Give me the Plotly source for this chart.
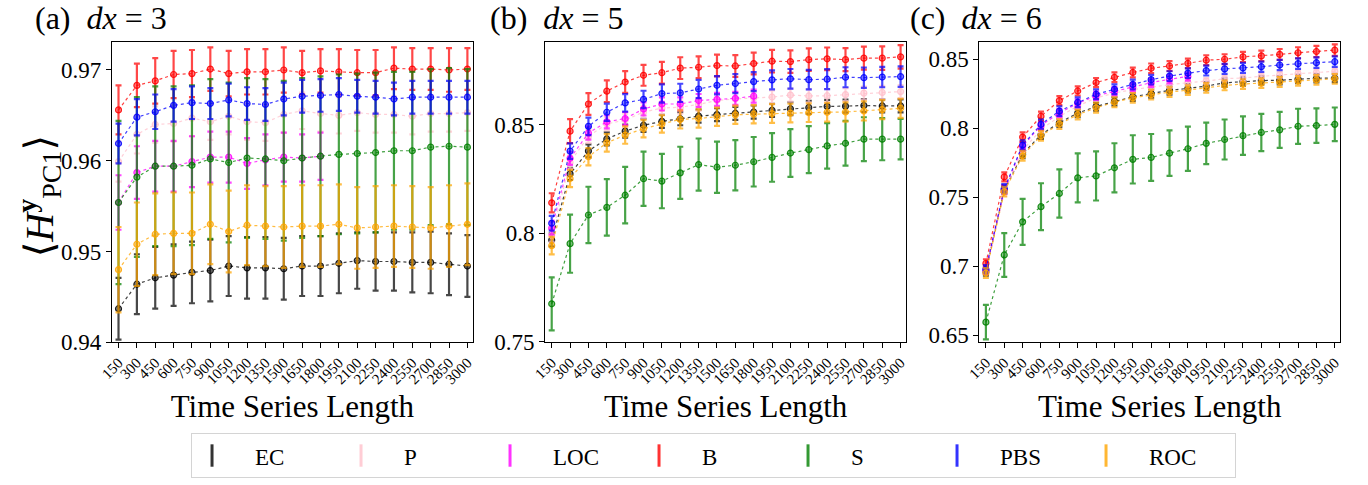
import plotly.graph_objects as go

# ---------------- data ----------------
lengths = [150, 300, 450, 600, 750, 900, 1050, 1200, 1350, 1500,
           1650, 1800, 1950, 2100, 2250, 2400, 2550, 2700, 2850, 3000]
length_labels = [str(v) for v in lengths]
loc_labels = length_labels[:12]   # LOC only evaluated up to 1800

series_names = ["EC", "P", "LOC", "B", "S", "PBS", "ROC"]
series_rgb = {"EC": "0,0,0", "P": "255,192,203", "LOC": "255,0,255", "B": "255,0,0",
              "S": "0,128,0", "PBS": "0,0,255", "ROC": "255,165,0"}

# panel (a) dx = 3
EC_a = [0.9437, 0.9464, 0.9471, 0.9474, 0.9477, 0.9479, 0.9484, 0.9482, 0.9482, 0.9481,
        0.9484, 0.9484, 0.9487, 0.9490, 0.9489, 0.9489, 0.9488, 0.9488, 0.9486, 0.9484]
EC_a_err = [0.0034, 0.0033, 0.0034, 0.0034, 0.0034, 0.0034, 0.0033, 0.0034, 0.0034, 0.0034,
            0.0033, 0.0033, 0.0033, 0.0031, 0.0032, 0.0032, 0.0033, 0.0034, 0.0034, 0.0034]
P_a = [0.9599, 0.9629, 0.9640, 0.9641, 0.9647, 0.9643, 0.9649, 0.9643, 0.9642, 0.9651,
       0.9655, 0.9652, 0.9650, 0.9653, 0.9651, 0.9651, 0.9649, 0.9652, 0.9652, 0.9653]
P_a_err = [0.0022, 0.0021, 0.0020, 0.0020, 0.0020, 0.0020, 0.0020, 0.0020, 0.0020, 0.0020,
           0.0020, 0.0020, 0.0020, 0.0020, 0.0020, 0.0020, 0.0020, 0.0020, 0.0020, 0.0020]
LOC_a = [0.9554, 0.9587, 0.9594, 0.9594, 0.9599, 0.9604, 0.9604, 0.9597, 0.9601, 0.9604,
         0.9603, 0.9605]
LOC_a_err = [0.0030, 0.0029, 0.0028, 0.0028, 0.0028, 0.0028, 0.0028, 0.0028, 0.0028, 0.0027,
             0.0026, 0.0026]
B_a = [0.9656, 0.9683, 0.9688, 0.9695, 0.9696, 0.9701, 0.9696, 0.9698, 0.9698, 0.9700,
       0.9697, 0.9699, 0.9698, 0.9697, 0.9697, 0.9702, 0.9701, 0.9701, 0.9700, 0.9701]
B_a_err = [0.0027, 0.0024, 0.0025, 0.0026, 0.0026, 0.0024, 0.0025, 0.0025, 0.0025, 0.0025,
           0.0024, 0.0024, 0.0025, 0.0025, 0.0025, 0.0023, 0.0023, 0.0023, 0.0024, 0.0023]
S_a = [0.9554, 0.9582, 0.9594, 0.9594, 0.9595, 0.9602, 0.9598, 0.9603, 0.9602, 0.9600,
       0.9603, 0.9605, 0.9607, 0.9608, 0.9609, 0.9611, 0.9611, 0.9615, 0.9616, 0.9615]
S_a_err = [0.0090, 0.0088, 0.0088, 0.0088, 0.0088, 0.0088, 0.0088, 0.0088, 0.0088, 0.0088,
           0.0088, 0.0088, 0.0088, 0.0088, 0.0088, 0.0087, 0.0087, 0.0086, 0.0086, 0.0086]
PBS_a = [0.9619, 0.9648, 0.9654, 0.9661, 0.9664, 0.9663, 0.9667, 0.9663, 0.9662, 0.9668,
         0.9671, 0.9672, 0.9673, 0.9671, 0.9670, 0.9668, 0.9670, 0.9670, 0.9670, 0.9670]
PBS_a_err = [0.0022, 0.0020, 0.0019, 0.0018, 0.0018, 0.0017, 0.0018, 0.0018, 0.0018, 0.0018,
             0.0018, 0.0018, 0.0018, 0.0018, 0.0018, 0.0018, 0.0018, 0.0018, 0.0018, 0.0018]
ROC_a = [0.9480, 0.9508, 0.9519, 0.9520, 0.9520, 0.9530, 0.9522, 0.9529, 0.9528, 0.9527,
         0.9528, 0.9528, 0.9530, 0.9526, 0.9527, 0.9528, 0.9527, 0.9526, 0.9528, 0.9530]
ROC_a_err = [0.0047, 0.0046, 0.0045, 0.0045, 0.0045, 0.0044, 0.0045, 0.0044, 0.0044, 0.0045,
             0.0045, 0.0045, 0.0044, 0.0045, 0.0045, 0.0045, 0.0045, 0.0045, 0.0045, 0.0045]

# panel (b) dx = 5
EC_b = [0.7969, 0.8273, 0.8379, 0.8434, 0.8470, 0.8497, 0.8515, 0.8527, 0.8539, 0.8546,
        0.8552, 0.8558, 0.8566, 0.8573, 0.8579, 0.8584, 0.8585, 0.8588, 0.8586, 0.8586]
EC_b_err = [0.0030, 0.0028, 0.0030, 0.0030, 0.0030, 0.0030, 0.0030, 0.0030, 0.0030, 0.0030,
            0.0030, 0.0030, 0.0030, 0.0030, 0.0030, 0.0030, 0.0030, 0.0030, 0.0030, 0.0030]
P_b = [0.7990, 0.8327, 0.8446, 0.8503, 0.8521, 0.8558, 0.8576, 0.8580, 0.8593, 0.8611,
       0.8618, 0.8622, 0.8627, 0.8636, 0.8632, 0.8633, 0.8638, 0.8645, 0.8648, 0.8652]
P_b_err = [0.0030, 0.0030, 0.0030, 0.0030, 0.0030, 0.0030, 0.0030, 0.0030, 0.0030, 0.0030,
           0.0030, 0.0030, 0.0030, 0.0030, 0.0030, 0.0030, 0.0030, 0.0030, 0.0030, 0.0030]
LOC_b = [0.8024, 0.8345, 0.8461, 0.8513, 0.8528, 0.8572, 0.8595, 0.8595, 0.8611, 0.8616,
         0.8621, 0.8631]
LOC_b_err = [0.0030, 0.0030, 0.0030, 0.0030, 0.0030, 0.0030, 0.0030, 0.0030, 0.0030, 0.0030,
             0.0030, 0.0030]
B_b = [0.8140, 0.8470, 0.8595, 0.8654, 0.8696, 0.8727, 0.8739, 0.8760, 0.8764, 0.8772,
       0.8770, 0.8781, 0.8792, 0.8790, 0.8799, 0.8803, 0.8799, 0.8806, 0.8806, 0.8812]
B_b_err = [0.0044, 0.0055, 0.0050, 0.0050, 0.0050, 0.0048, 0.0050, 0.0050, 0.0050, 0.0050,
           0.0050, 0.0050, 0.0052, 0.0052, 0.0052, 0.0052, 0.0053, 0.0053, 0.0054, 0.0054]
S_b = [0.7675, 0.7952, 0.8084, 0.8119, 0.8175, 0.8251, 0.8240, 0.8278, 0.8316, 0.8304,
       0.8313, 0.8329, 0.8349, 0.8369, 0.8385, 0.8402, 0.8414, 0.8433, 0.8433, 0.8433]
S_b_err = [0.0122, 0.0134, 0.0130, 0.0130, 0.0130, 0.0125, 0.0125, 0.0120, 0.0120, 0.0118,
           0.0116, 0.0114, 0.0112, 0.0110, 0.0108, 0.0105, 0.0103, 0.0101, 0.0097, 0.0093]
PBS_b = [0.8046, 0.8378, 0.8492, 0.8557, 0.8600, 0.8616, 0.8643, 0.8646, 0.8664, 0.8681,
         0.8689, 0.8698, 0.8706, 0.8711, 0.8707, 0.8709, 0.8718, 0.8716, 0.8719, 0.8721]
PBS_b_err = [0.0034, 0.0036, 0.0040, 0.0040, 0.0040, 0.0040, 0.0042, 0.0042, 0.0042, 0.0042,
             0.0044, 0.0044, 0.0044, 0.0045, 0.0045, 0.0046, 0.0046, 0.0047, 0.0047, 0.0047]
ROC_b = [0.7943, 0.8252, 0.8352, 0.8416, 0.8452, 0.8481, 0.8503, 0.8524, 0.8528, 0.8536,
         0.8545, 0.8548, 0.8551, 0.8553, 0.8555, 0.8557, 0.8558, 0.8563, 0.8569, 0.8575]
ROC_b_err = [0.0040, 0.0040, 0.0040, 0.0040, 0.0040, 0.0040, 0.0040, 0.0042, 0.0042, 0.0042,
             0.0042, 0.0042, 0.0043, 0.0043, 0.0043, 0.0043, 0.0044, 0.0044, 0.0044, 0.0044]

# panel (c) dx = 6
EC_c = [0.6961, 0.7553, 0.7812, 0.7953, 0.8040, 0.8110, 0.8157, 0.8195, 0.8228, 0.8251,
        0.8274, 0.8289, 0.8305, 0.8329, 0.8338, 0.8345, 0.8348, 0.8357, 0.8362, 0.8364]
EC_c_err = [0.0030, 0.0030, 0.0030, 0.0030, 0.0030, 0.0030, 0.0030, 0.0030, 0.0030, 0.0030,
            0.0030, 0.0030, 0.0030, 0.0030, 0.0030, 0.0030, 0.0030, 0.0030, 0.0030, 0.0030]
P_c = [0.6965, 0.7535, 0.7840, 0.7990, 0.8085, 0.8160, 0.8220, 0.8255, 0.8280, 0.8300,
       0.8315, 0.8330, 0.8341, 0.8359, 0.8364, 0.8376, 0.8387, 0.8397, 0.8404, 0.8412]
P_c_err = [0.0022, 0.0022, 0.0022, 0.0022, 0.0022, 0.0022, 0.0022, 0.0022, 0.0022, 0.0022,
           0.0022, 0.0022, 0.0022, 0.0022, 0.0022, 0.0022, 0.0022, 0.0022, 0.0022, 0.0022]
LOC_c = [0.6972, 0.7555, 0.7868, 0.8020, 0.8110, 0.8180, 0.8235, 0.8268, 0.8298, 0.8330,
         0.8355, 0.8375]
LOC_c_err = [0.0030, 0.0030, 0.0030, 0.0030, 0.0030, 0.0030, 0.0030, 0.0030, 0.0030, 0.0030,
             0.0030, 0.0030]
B_c = [0.7020, 0.7647, 0.7936, 0.8087, 0.8200, 0.8270, 0.8331, 0.8369, 0.8404, 0.8434,
       0.8451, 0.8470, 0.8493, 0.8500, 0.8517, 0.8524, 0.8535, 0.8547, 0.8556, 0.8566]
B_c_err = [0.0030, 0.0033, 0.0033, 0.0033, 0.0033, 0.0033, 0.0033, 0.0035, 0.0035, 0.0035,
           0.0035, 0.0035, 0.0036, 0.0036, 0.0037, 0.0038, 0.0039, 0.0040, 0.0041, 0.0042]
S_c = [0.6594, 0.7081, 0.7321, 0.7431, 0.7527, 0.7640, 0.7654, 0.7713, 0.7774, 0.7788,
       0.7819, 0.7851, 0.7890, 0.7918, 0.7946, 0.7969, 0.7988, 0.8014, 0.8019, 0.8028]
S_c_err = [0.0125, 0.0159, 0.0167, 0.0170, 0.0175, 0.0178, 0.0178, 0.0178, 0.0175, 0.0170,
           0.0165, 0.0160, 0.0150, 0.0145, 0.0140, 0.0135, 0.0130, 0.0127, 0.0125, 0.0122]
PBS_c = [0.6977, 0.7562, 0.7878, 0.8028, 0.8124, 0.8188, 0.8246, 0.8282, 0.8317, 0.8352,
         0.8378, 0.8399, 0.8418, 0.8430, 0.8437, 0.8446, 0.8458, 0.8468, 0.8475, 0.8482]
PBS_c_err = [0.0030, 0.0033, 0.0033, 0.0035, 0.0035, 0.0035, 0.0035, 0.0035, 0.0035, 0.0035,
             0.0035, 0.0035, 0.0036, 0.0036, 0.0036, 0.0037, 0.0037, 0.0038, 0.0038, 0.0038]
ROC_c = [0.6950, 0.7540, 0.7800, 0.7945, 0.8030, 0.8098, 0.8148, 0.8188, 0.8220, 0.8243,
         0.8262, 0.8276, 0.8292, 0.8310, 0.8320, 0.8327, 0.8335, 0.8343, 0.8350, 0.8358]
ROC_c_err = [0.0035, 0.0035, 0.0035, 0.0035, 0.0035, 0.0035, 0.0035, 0.0035, 0.0035, 0.0035,
             0.0035, 0.0035, 0.0035, 0.0035, 0.0035, 0.0035, 0.0035, 0.0035, 0.0035, 0.0035]

panels = [
    {"EC": (EC_a, EC_a_err), "P": (P_a, P_a_err), "LOC": (LOC_a, LOC_a_err), "B": (B_a, B_a_err),
     "S": (S_a, S_a_err), "PBS": (PBS_a, PBS_a_err), "ROC": (ROC_a, ROC_a_err)},
    {"EC": (EC_b, EC_b_err), "P": (P_b, P_b_err), "LOC": (LOC_b, LOC_b_err), "B": (B_b, B_b_err),
     "S": (S_b, S_b_err), "PBS": (PBS_b, PBS_b_err), "ROC": (ROC_b, ROC_b_err)},
    {"EC": (EC_c, EC_c_err), "P": (P_c, P_c_err), "LOC": (LOC_c, LOC_c_err), "B": (B_c, B_c_err),
     "S": (S_c, S_c_err), "PBS": (PBS_c, PBS_c_err), "ROC": (ROC_c, ROC_c_err)},
]
panel_titles = ["(a)&nbsp;&nbsp;<i>dx</i>&nbsp;=&nbsp;3", "(b)&nbsp;&nbsp;<i>dx</i>&nbsp;=&nbsp;5",
                "(c)&nbsp;&nbsp;<i>dx</i>&nbsp;=&nbsp;6"]
y_ranges = [[0.94, 0.9731], [0.7498, 0.8881], [0.6448, 0.8626]]
y_ticks = [[0.94, 0.95, 0.96, 0.97], [0.75, 0.80, 0.85], [0.65, 0.70, 0.75, 0.80, 0.85]]
y_ticktext = [["0.94", "0.95", "0.96", "0.97"], ["0.75", "0.8", "0.85"],
              ["0.65", "0.7", "0.75", "0.8", "0.85"]]

# ---------------- layout geometry (pixels) ----------------
W, H = 1368, 485
x_px = [(100, 465), (538, 903), (977, 1342)]
y_px = (43, 351.7)
title_x_px = [20, 480, 905]
FONT = "Times New Roman, Liberation Serif, DejaVu Serif, serif"

fig = go.Figure()

for p, data in enumerate(panels):
    xa = "x" if p == 0 else f"x{p+1}"
    ya = "y" if p == 0 else f"y{p+1}"
    for name in series_names:
        vals, errs = data[name]
        rgb = series_rgb[name]
        cats = length_labels if len(vals) == len(length_labels) else loc_labels
        fig.add_trace(go.Scatter(
            x=cats, y=vals, xaxis=xa, yaxis=ya, name=name, showlegend=False,
            mode="lines+markers",
            line=dict(color=f"rgba({rgb},0.75)", width=1.2, dash="dot"),
            marker=dict(symbol="circle", size=6, color=f"rgba({rgb},0.45)",
                        line=dict(color=f"rgba({rgb},0.85)", width=1.2)),
            error_y=dict(type="data", array=errs, visible=True,
                         color=f"rgba({rgb},0.72)", thickness=2.2, width=3),
            hoverinfo="x+y+name",
        ))

# legend-only entries
for name in series_names:
    rgb = series_rgb[name]
    fig.add_trace(go.Scatter(
        x=[None], y=[None], name="&nbsp;&nbsp;&nbsp;&nbsp;" + name, mode="markers",
        showlegend=True,
        marker=dict(symbol="line-ns-open", size=16, color=f"rgba({rgb},0.8)",
                    line=dict(color=f"rgba({rgb},0.8)", width=3)),
    ))

layout = dict(
    width=W, height=H, autosize=False,
    margin=dict(l=0, r=0, t=0, b=0),
    paper_bgcolor="white", plot_bgcolor="white",
    font=dict(family=FONT, color="black"),
    showlegend=True,
    legend=dict(orientation="h", x=180 / W, y=1 - 445 / H, xanchor="left", yanchor="top",
                bordercolor="#d4d4d4", borderwidth=1, bgcolor="white",
                font=dict(family=FONT, size=23, color="black"),
                entrywidth=104, entrywidthmode="pixels",
                tracegroupgap=0),
    annotations=[],
)

for p in range(3):
    xkey = "xaxis" if p == 0 else f"xaxis{p+1}"
    ykey = "yaxis" if p == 0 else f"yaxis{p+1}"
    anchor_x = "y" if p == 0 else f"y{p+1}"
    anchor_y = "x" if p == 0 else f"x{p+1}"
    layout[xkey] = dict(
        domain=[x_px[p][0] / W, x_px[p][1] / W], anchor=anchor_x,
        type="category", categoryorder="array", categoryarray=length_labels,
        range=[-0.36, 19.3],
        tickmode="linear", tick0=0, dtick=1,
        showline=True, linecolor="black", linewidth=1, mirror=True,
        ticks="outside", ticklen=5, tickcolor="black", tickangle=-45,
        tickfont=dict(family=FONT, size=15),
        showgrid=False, zeroline=False,
        title=dict(text="Time Series Length", font=dict(family=FONT, size=31), standoff=8),
    )
    layout[ykey] = dict(
        domain=[1 - y_px[1] / H, 1 - y_px[0] / H], anchor=anchor_y,
        range=y_ranges[p], tickmode="array", tickvals=y_ticks[p], ticktext=y_ticktext[p],
        showline=True, linecolor="black", linewidth=1, mirror=True,
        ticks="outside", ticklen=5, tickcolor="black",
        tickfont=dict(family=FONT, size=23),
        showgrid=False, zeroline=False,
    )
    layout["annotations"].append(dict(
        text=panel_titles[p], xref="paper", yref="paper",
        x=title_x_px[p] / W, y=1 - 19 / H, xanchor="left", yanchor="middle", align="left",
        showarrow=False, font=dict(family=FONT, size=32),
    ))

layout["annotations"].append(dict(
    text="⟨<i>H</i><sup><b>y</b></sup><sub>PC1</sub>⟩", xref="paper", yref="paper",
    x=26 / W, y=1 - 202 / H, xanchor="center", yanchor="middle", textangle=-90,
    showarrow=False, font=dict(family=FONT, size=40),
))

fig.update_layout(**layout)
fig.write_html("out.html")
